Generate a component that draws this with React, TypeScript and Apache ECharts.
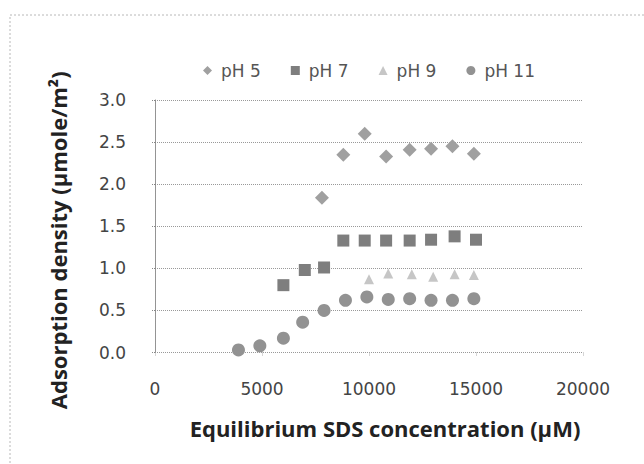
import React, { useEffect, useRef } from "react";
import * as echarts from "echarts";

const xTicks = [0, 5000, 10000, 15000, 20000];
const yTicks = [0, 0.5, 1.0, 1.5, 2.0, 2.5, 3.0];

const seriesNames = ["pH 5", "pH 7", "pH 9", "pH 11"];

const ph5: [number, number][] = [
  [7800, 1.84], [8800, 2.35], [9800, 2.6], [10800, 2.33],
  [11900, 2.41], [12900, 2.42], [13900, 2.45], [14900, 2.36],
];
const ph7: [number, number][] = [
  [6000, 0.8], [7000, 0.98], [7900, 1.01], [8800, 1.33], [9800, 1.33],
  [10800, 1.33], [11900, 1.33], [12900, 1.34], [14000, 1.38], [15000, 1.34],
];
const ph9: [number, number][] = [
  [10000, 0.87], [10900, 0.94], [12000, 0.93], [13000, 0.9],
  [14000, 0.93], [14900, 0.92],
];
const ph11: [number, number][] = [
  [3900, 0.03], [4900, 0.08], [6000, 0.17], [6900, 0.36], [7900, 0.5],
  [8900, 0.62], [9900, 0.66], [10900, 0.63], [11900, 0.64], [12900, 0.62],
  [13900, 0.62], [14900, 0.64],
];

const symbols = ["diamond", "rect", "triangle", "circle"];
const sizes = [14, 12, 10, 13];
const colors = ["#a0a0a0", "#7e7e7e", "#c6c6c6", "#929292"];
const datasets = [ph5, ph7, ph9, ph11];

export default function App() {
  const ref = useRef<HTMLDivElement>(null);
  useEffect(() => {
    if (!ref.current) return;
    const chart = echarts.init(ref.current, null, { renderer: "svg" });
    chart.setOption({
      animation: false,
      backgroundColor: "#ffffff",
      graphic: [
        {
          type: "rect",
          shape: { x: 10, y: 15, width: 700, height: 500 },
          style: { fill: "none", stroke: "#b8b8b8", lineWidth: 1, lineDash: [2, 2] },
          silent: true,
        },
      ],
      legend: {
        top: 57,
        left: 198,
        padding: 5,
        itemWidth: 9,
        itemHeight: 9,
        itemGap: 30,
        data: seriesNames,
        textStyle: { fontFamily: "DejaVu Sans", fontSize: 17, color: "#555", padding: [0, 0, 0, 4] },
      },
      grid: { left: 155, right: 61, top: 100, bottom: 111.5, containLabel: false },
      xAxis: {
        type: "value",
        min: xTicks[0],
        max: xTicks[xTicks.length - 1],
        interval: 5000,
        axisLine: { show: false },
        axisTick: { show: true, length: 4, lineStyle: { color: "#aaa", type: "dotted" } },
        splitLine: { show: false },
        axisLabel: {
          fontFamily: "DejaVu Sans",
          fontSize: 17,
          color: "#444",
          margin: 28,
          formatter: (v: number) => (xTicks.includes(v) ? String(v) : ""),
        },
        name: "Equilibrium SDS concentration (\u00b5M)",
        nameLocation: "middle",
        nameGap: 64,
        nameTextStyle: {
          fontFamily: "Open Sans",
          fontWeight: "bold",
          fontSize: 22,
          color: "#222",
          padding: [0, 0, 0, 32],
        },
      },
      yAxis: {
        type: "value",
        min: yTicks[0],
        max: yTicks[yTicks.length - 1],
        interval: 0.5,
        axisLine: { show: true, lineStyle: { color: "#888", type: "dotted" } },
        axisTick: { show: true, length: 4, lineStyle: { color: "#888", type: "dotted" } },
        splitLine: { show: true, lineStyle: { color: "#999", type: "dotted", width: 1 } },
        axisLabel: {
          fontFamily: "DejaVu Sans",
          fontSize: 17,
          color: "#444",
          margin: 29,
          formatter: (v: number) => v.toFixed(1),
        },
        name: "Adsorption density (\u00b5mole/m\u00b2)",
        nameLocation: "middle",
        nameGap: 86,
        nameRotate: 90,
        nameTextStyle: {
          fontFamily: "Open Sans",
          fontWeight: "bold",
          fontSize: 22,
          color: "#222",
          padding: [0, 28, 0, 0],
        },
      },
      series: seriesNames.map((name, i) => ({
        name,
        type: "scatter",
        data: datasets[i],
        symbol: symbols[i],
        symbolSize: sizes[i],
        itemStyle: { color: colors[i], opacity: 1 },
      })),
    });
    return () => chart.dispose();
  }, []);
  return <div ref={ref} style={{ width: 644, height: 464, position: "absolute", left: 0, top: 0 }} />;
}
